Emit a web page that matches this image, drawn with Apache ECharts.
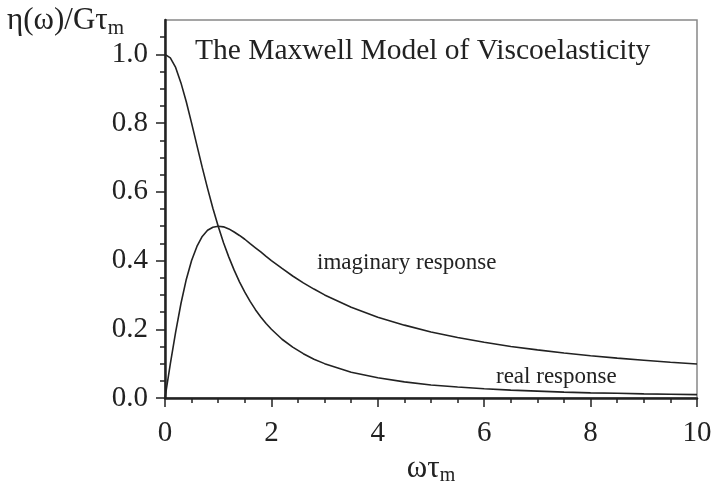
<!DOCTYPE html>
<html>
<head>
<meta charset="utf-8">
<script src="https://cdn.jsdelivr.net/npm/echarts@6/dist/echarts.min.js"></script>
<style>html,body{margin:0;padding:0;background:#fff}#c{width:712px;height:482px}</style>
</head>
<body>
<div id="c"></div>
<script>
var xValues = [0, 0.1, 0.2, 0.3, 0.4, 0.5, 0.6, 0.7, 0.8, 0.9, 1.0, 1.1, 1.2, 1.3, 1.4, 1.5, 1.6, 1.7, 1.8, 1.9, 2.0, 2.2, 2.4, 2.6, 2.8, 3.0, 3.5, 4, 4.5, 5, 5.5, 6, 6.5, 7, 7.5, 8, 8.5, 9, 9.5, 10];
var realResponse = [1, 0.990, 0.962, 0.917, 0.862, 0.8, 0.735, 0.671, 0.610, 0.552, 0.5, 0.452, 0.410, 0.372, 0.338, 0.308, 0.281, 0.257, 0.236, 0.217, 0.2, 0.171, 0.148, 0.129, 0.113, 0.1, 0.075, 0.059, 0.047, 0.038, 0.032, 0.027, 0.023, 0.020, 0.017, 0.015, 0.014, 0.012, 0.011, 0.0099];
var imaginaryResponse = [0, 0.099, 0.192, 0.275, 0.345, 0.4, 0.441, 0.470, 0.488, 0.497, 0.5, 0.498, 0.492, 0.483, 0.473, 0.462, 0.449, 0.437, 0.425, 0.412, 0.4, 0.377, 0.355, 0.335, 0.317, 0.3, 0.264, 0.235, 0.212, 0.192, 0.176, 0.162, 0.150, 0.140, 0.131, 0.123, 0.116, 0.110, 0.104, 0.099];
var yMajorTicks = [0, 0.2, 0.4, 0.6, 0.8, 1.0];
var yMinorTicks = [0.05, 0.1, 0.15, 0.25, 0.3, 0.35, 0.45, 0.5, 0.55, 0.65, 0.7, 0.75, 0.85, 0.9, 0.95, 1.05];

var FONT = '"Liberation Serif", "DejaVu Serif", serif';
var INK = '#222';

function pairs(ys) { return xValues.map(function (x, i) { return [x, ys[i]]; }); }

var chart = echarts.init(document.getElementById('c'), null, {renderer: 'canvas'});
chart.setOption({
  animation: false,
  backgroundColor: '#fff',
  grid: {left: 165, right: 15, top: 20, bottom: 84, containLabel: false, outerBoundsMode: 'none', show: true, borderColor: '#888', borderWidth: 1.5, backgroundColor: 'transparent'},
  xAxis: {
    type: 'value', min: 0, max: 10, interval: 2,
    name: '{a|ωτ}{s|m}', nameLocation: 'middle', nameGap: 41,
    nameTextStyle: {rich: {a: {fontFamily: FONT, fontSize: 31, color: INK}, s: {fontFamily: FONT, fontSize: 20, color: INK, verticalAlign: 'bottom', padding: [15, 0, 0, 0]}}},
    axisLine: {show: true, lineStyle: {color: INK, width: 2.5}},
    axisTick: {show: true, length: 9, lineStyle: {color: INK, width: 1.5}},
    minorTick: {show: true, splitNumber: 4, length: 5, lineStyle: {color: INK, width: 1.5}},
    axisLabel: {fontFamily: FONT, fontSize: 29, color: INK, margin: 21},
    splitLine: {show: false}
  },
  yAxis: [{
    type: 'value', min: 0, max: 1.1,
    axisLine: {show: true, lineStyle: {color: INK, width: 2.5}},
    axisTick: {show: true, length: 9, customValues: yMajorTicks, lineStyle: {color: INK, width: 1.5}},
    axisLabel: {fontFamily: FONT, fontSize: 29, color: INK, margin: 17, padding: [11, 0, 0, 0], customValues: yMajorTicks, formatter: function (v) { return v.toFixed(1); }},
    splitLine: {show: false}
  }, {
    type: 'value', min: 0, max: 1.1, position: 'left',
    axisLine: {show: false},
    axisTick: {show: true, length: 5, customValues: yMinorTicks, lineStyle: {color: INK, width: 1.5}},
    axisLabel: {show: false},
    splitLine: {show: false}
  }],
  series: [{
    name: 'real response', type: 'line', data: pairs(realResponse), smooth: false, showSymbol: false,
    lineStyle: {color: INK, width: 1.6}
  }, {
    name: 'imaginary response', type: 'line', data: pairs(imaginaryResponse), smooth: false, showSymbol: false,
    lineStyle: {color: INK, width: 1.6}
  }],
  graphic: [
    {type: 'text', left: 7, top: 5, style: {text: '{a|η(ω)/Gτ}{s|m}', rich: {a: {fontFamily: FONT, fontSize: 31, fill: INK}, s: {fontFamily: FONT, fontSize: 21, fill: INK, verticalAlign: 'bottom', padding: [15, 0, 0, 0]}}}},
    {type: 'text', left: 195, top: 36, style: {text: 'The Maxwell Model of Viscoelasticity', fontFamily: FONT, fontSize: 29.5, fill: INK}},
    {type: 'text', left: 317, top: 251, style: {text: 'imaginary response', fontFamily: FONT, fontSize: 23, fill: INK}},
    {type: 'text', left: 496, top: 365, style: {text: 'real response', fontFamily: FONT, fontSize: 23, fill: INK}}
  ]
});
</script>
</body>
</html>
